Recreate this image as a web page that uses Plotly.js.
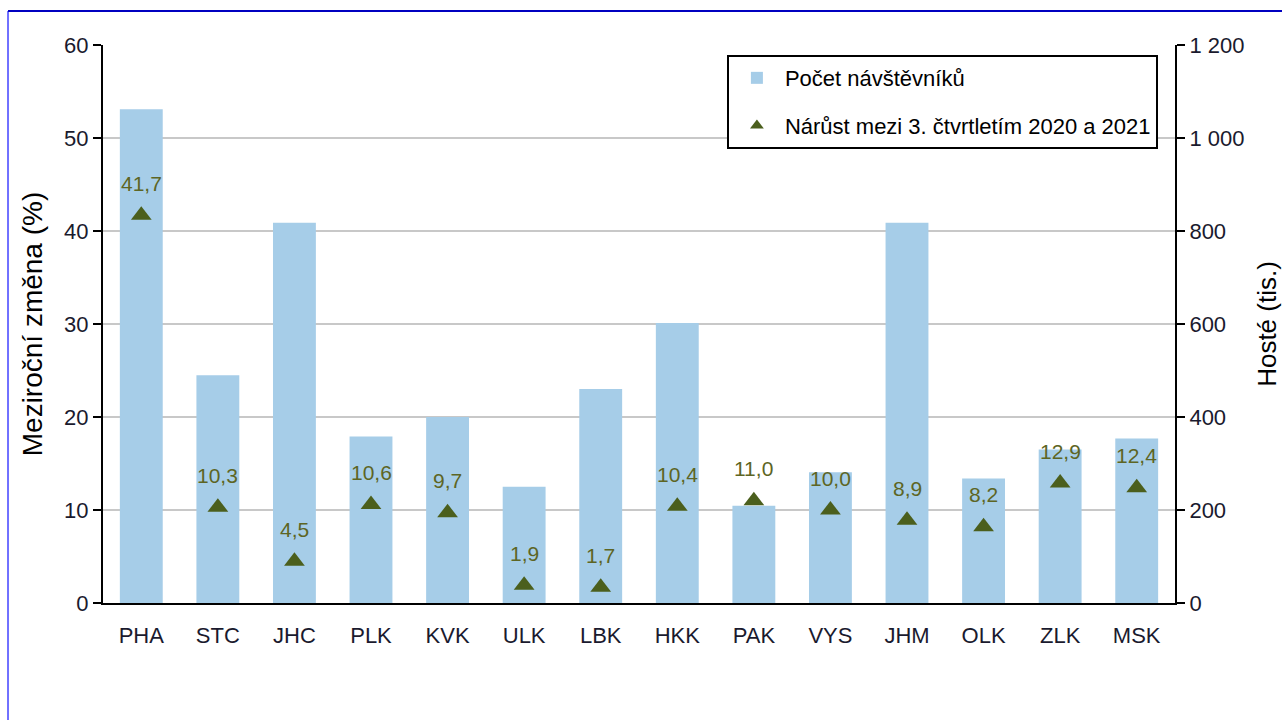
<!DOCTYPE html>
<html>
<head>
<meta charset="utf-8">
<script src="https://cdn.plot.ly/plotly-3.0.1.min.js"></script>
<style>
html, body { margin: 0; padding: 0; background: #ffffff; }
#chart { width: 1282px; height: 720px; }
</style>
</head>
<body>
<div id="chart"></div>
<script>
// Data
var regions = ['PHA', 'STC', 'JHC', 'PLK', 'KVK', 'ULK', 'LBK', 'HKK', 'PAK', 'VYS', 'JHM', 'OLK', 'ZLK', 'MSK'];
var visitors = [1062, 490, 818, 358, 400, 250, 460, 602, 209, 281, 818, 268, 330, 354];   // Počet návštěvníků (tis.)
var growth = [41.7, 10.3, 4.5, 10.6, 9.7, 1.9, 1.7, 10.4, 11.0, 10.0, 8.9, 8.2, 12.9, 12.4]; // Nárůst (%)
var leftTicks = [0, 10, 20, 30, 40, 50, 60];
var rightTickVals = [0, 200, 400, 600, 800, 1000, 1200];
var rightTickText = ['0', '200', '400', '600', '800', '1 000', '1 200'];

var FONT = 'Liberation Sans, Arial, sans-serif';

var bars = {
  type: 'bar',
  name: 'Počet návštěvníků',
  x: regions,
  y: visitors,
  yaxis: 'y',
  marker: { color: '#a6cde8' },
  legendgroup: 'a',
  hoverinfo: 'x+y'
};

var tri = {
  type: 'scatter',
  mode: 'markers',
  name: 'Nárůst mezi 3. čtvrtletím 2020 a 2021',
  x: regions,
  y: growth,
  yaxis: 'y2',
  marker: { symbol: 'triangle-up', size: 18, color: '#4b5f1d' },
  legendgroup: 'b',
  hoverinfo: 'x+y'
};

var annotations = regions.map(function (r, i) {
  return {
    x: r, y: growth[i], xref: 'x', yref: 'y2',
    text: growth[i].toFixed(1).replace('.', ','),
    showarrow: false, yshift: 32,
    font: { family: FONT, size: 21, color: '#5d6524' }
  };
});

var layout = {
  width: 1282, height: 720,
  margin: { l: 103, r: 107, t: 45, b: 117 },
  paper_bgcolor: '#ffffff', plot_bgcolor: '#ffffff',
  font: { family: FONT, size: 21, color: '#222222' },
  showlegend: true,
  bargap: 0.44,
  xaxis: {
    type: 'category',
    range: [-0.5, regions.length - 0.5],
    showline: true, linecolor: '#000000', linewidth: 2,
    ticks: '', showgrid: false,
    tickfont: { family: FONT, size: 22, color: '#1a1a2e' },
    ticklabelstandoff: 12
  },
  yaxis: {
    side: 'right',
    range: [0, 1200],
    tickvals: rightTickVals, ticktext: rightTickText,
    showline: true, linecolor: '#000000', linewidth: 2,
    ticks: 'outside', ticklen: 8, tickwidth: 2, tickcolor: '#000000',
    showgrid: true, gridcolor: '#c8c8c8', gridwidth: 2,
    zeroline: false,
    tickfont: { family: FONT, size: 22, color: '#1a1a2e' },
    title: { text: 'Hosté (tis.)', font: { family: FONT, size: 26, color: '#000000' }, standoff: 15 }
  },
  yaxis2: {
    overlaying: 'y', side: 'left',
    range: [0, 60],
    tickvals: leftTicks,
    showline: true, linecolor: '#000000', linewidth: 2,
    ticks: 'outside', ticklen: 8, tickwidth: 2, tickcolor: '#000000',
    showgrid: false, zeroline: false,
    tickfont: { family: FONT, size: 22, color: '#1a1a2e' },
    title: { text: 'Meziroční změna (%)', font: { family: FONT, size: 28, color: '#000000' }, standoff: 13 }
  },
  legend: {
    x: 0.582, y: 0.982, xanchor: 'left', yanchor: 'top',
    bgcolor: '#ffffff', bordercolor: '#000000', borderwidth: 2,
    font: { family: FONT, size: 22, color: '#000000' },
    traceorder: 'grouped', tracegroupgap: 16,
    itemsizing: 'constant', itemwidth: 46
  },
  annotations: annotations,
  shapes: [
    { type: 'line', xref: 'paper', yref: 'paper', x0: -0.0886, x1: -0.0886, y0: 1.0609, y1: -0.2186,
      line: { color: '#7070ff', width: 2 } },
    { type: 'line', xref: 'paper', yref: 'paper', x0: -0.0886, x1: 1.107, y0: 1.0609, y1: 1.0609,
      line: { color: '#0000c0', width: 2 } }
  ]
};

Plotly.newPlot('chart', [bars, tri], layout, { displayModeBar: false, staticPlot: true });
</script>
</body>
</html>
